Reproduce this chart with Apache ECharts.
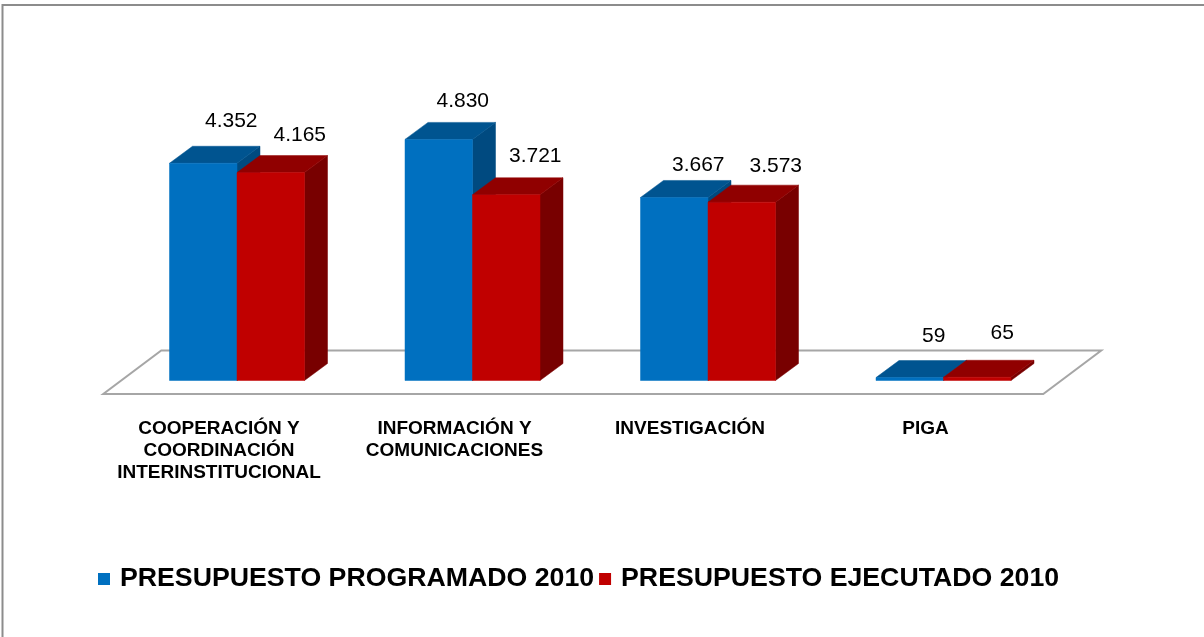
<!DOCTYPE html>
<html>
<head>
<meta charset="utf-8">
<style>html,body{margin:0;padding:0;background:#fff}#c{width:1204px;height:637px}</style>
<script src="https://cdn.jsdelivr.net/npm/echarts@6/dist/echarts.min.js"></script>
</head>
<body>
<div id="c"></div>
<script>
const categories = ['COOPERACIÓN Y\nCOORDINACIÓN\nINTERINSTITUCIONAL', 'INFORMACIÓN Y\nCOMUNICACIONES', 'INVESTIGACIÓN', 'PIGA'];
const programado = [4352, 4830, 3667, 59];
const ejecutado = [4165, 3721, 3573, 65];
const seriesNames = ['PRESUPUESTO PROGRAMADO 2010', 'PRESUPUESTO EJECUTADO 2010'];

// label nudges, in px, relative to the centre of each bar's back top edge
const labelNudgeProgramado = [[5, -25], [1, -21], [1, -15], [1, -24]];
const labelNudgeEjecutado = [[6, -20], [6, -22], [11, -19], [2, -27]];

const DEPTH_X = 23, DEPTH_Y = 17;
const BAR_FRACTION = 67.5 / 235.5;

function fmt(v) {
  return String(v).replace(/\B(?=(\d{3})+$)/g, '.');
}

function bar3d(side, colors, nudges) {
  return function (params, api) {
    const i = api.value(0);
    const v = api.value(1);
    const top = api.coord([i, v]);
    const base = api.coord([i, 0]);
    const w = api.size([1, 0])[0] * BAR_FRACTION;
    const x0 = side === 0 ? top[0] - w : top[0];
    const x1 = x0 + w;
    const yt = top[1], yb = base[1];
    const n = nudges[params.dataIndex];
    const poly = (pts, fill) => ({
      type: 'polygon',
      shape: { points: pts },
      style: { fill: fill, stroke: fill, lineWidth: 0.5 }
    });
    return {
      type: 'group',
      children: [
        poly([[x1, yb], [x1 + DEPTH_X, yb - DEPTH_Y], [x1 + DEPTH_X, yt - DEPTH_Y], [x1, yt]], colors[2]),
        poly([[x0, yt], [x0 + DEPTH_X, yt - DEPTH_Y], [x1 + DEPTH_X, yt - DEPTH_Y], [x1, yt]], colors[1]),
        poly([[x0, yb], [x0, yt], [x1, yt], [x1, yb]], colors[0]),
        {
          type: 'text',
          style: {
            x: (x0 + x1) / 2 + DEPTH_X + n[0],
            y: yt - DEPTH_Y + n[1],
            text: fmt(v),
            fill: '#000',
            font: '21px "Liberation Sans", Arial, sans-serif',
            align: 'center',
            verticalAlign: 'middle'
          }
        }
      ]
    };
  };
}

function floor(params, api) {
  const cs = params.coordSys;
  const y0 = cs.y + cs.height;
  const x0 = cs.x, x1 = cs.x + cs.width;
  return {
    type: 'polygon',
    shape: { points: [[x0 - 16, y0 + 13.5], [x1 - 18, y0 + 13.5], [x1 + 40, y0 - 30], [x0 + 42, y0 - 30]] },
    style: { fill: '#fff', stroke: '#a6a6a6', lineWidth: 2 }
  };
}

const chart = echarts.init(document.getElementById('c'), null, { renderer: 'canvas' });
chart.setOption({
  animation: false,
  backgroundColor: '#fff',
  grid: { left: 119.25, width: 942, top: 81, height: 299.5 },
  xAxis: {
    type: 'category',
    data: categories,
    axisLine: { show: false },
    axisTick: { show: false },
    axisLabel: {
      interval: 0,
      margin: 37,
      color: '#000',
      fontFamily: '"Liberation Sans", Arial, sans-serif',
      fontWeight: 'bold',
      fontSize: 19,
      lineHeight: 22,
      padding: [0, 36, 0, 0]
    }
  },
  yAxis: { type: 'value', min: 0, max: 6000, show: false },
  legend: {
    left: 98,
    top: 565.5,
    padding: 0,
    itemGap: 5,
    itemWidth: 12,
    itemHeight: 12,
    icon: 'rect',
    data: seriesNames,
    textStyle: {
      color: '#000',
      fontFamily: '"Liberation Sans", Arial, sans-serif',
      fontWeight: 'bold',
      fontSize: 26.7,
      padding: [0, 0, 0, 5]
    }
  },
  graphic: [
    { type: 'polyline', silent: true, shape: { points: [[2.5, 637], [2.5, 5], [1204, 5]] },
      style: { fill: null, stroke: '#8c8c8c', lineWidth: 2 } }
  ],
  series: [
    { type: 'custom', name: 'floor', silent: true, z: 1, renderItem: floor, data: [0], legendHoverLink: false },
    { type: 'custom', name: seriesNames[0], z: 2, itemStyle: { color: '#0070C0' },
      encode: { x: 0, y: 1 },
      renderItem: bar3d(0, ['#0070C0', '#005490', '#004A80'], labelNudgeProgramado),
      data: programado.map((v, i) => [i, v]) },
    { type: 'custom', name: seriesNames[1], z: 3, itemStyle: { color: '#C00000' },
      encode: { x: 0, y: 1 },
      renderItem: bar3d(1, ['#C00000', '#900000', '#780000'], labelNudgeEjecutado),
      data: ejecutado.map((v, i) => [i, v]) }
  ]
});
</script>
</body>
</html>
